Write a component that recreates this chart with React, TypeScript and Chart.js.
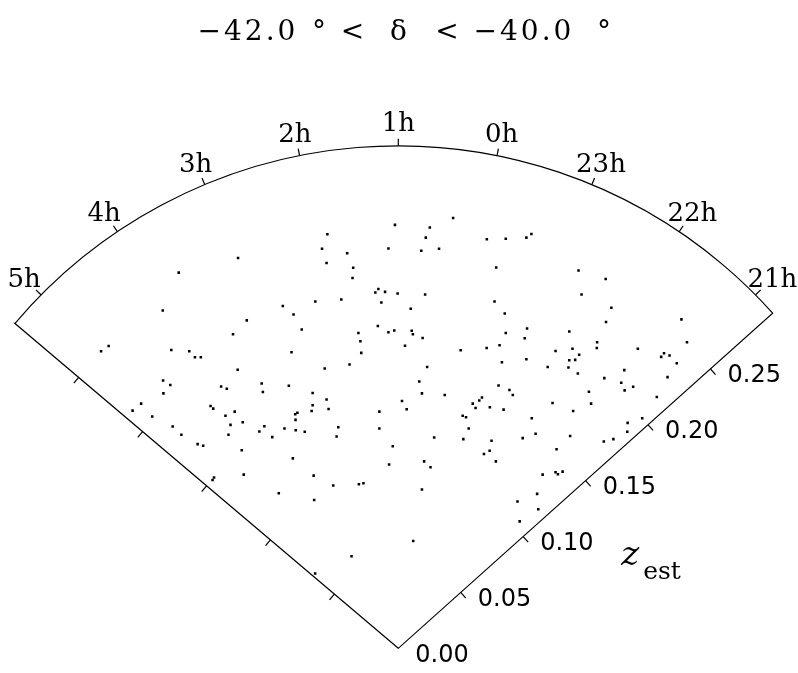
import React, { useEffect, useRef } from "react";
import { Chart, registerables } from "chart.js";

Chart.register(...registerables);

// ---------------- data ----------------
const titleParts = ["−42.0", "°", "<", "δ", "<", "−40.0", "°"];
const decCenterDeg = -41;
const raCenterHours = 1;
const raEastEdgeHours = 5.39;
const raWestEdgeHours = 20.746;
const zMax = 0.3;
const hourTickValues = [5, 4, 3, 2, 1, 0, 23, 22, 21];
const hourTickLabels = ["5h", "4h", "3h", "2h", "1h", "0h", "23h", "22h", "21h"];
const zTickValues = [0.05, 0.1, 0.15, 0.2, 0.25];
const zLabelValues = [0, 0.05, 0.1, 0.15, 0.2, 0.25];
const zLabelTexts = ["0.00", "0.05", "0.10", "0.15", "0.20", "0.25"];
const zAxisSymbol = "z";
const zAxisSubscript = "est";

// galaxy positions projected in the cone plane (units of redshift)
const galaxyX = [
  -0.0956, -0.131, -0.1405, -0.0904, -0.0986, -0.1728, -0.1773, -0.1354, -0.1247, -0.1213,
  -0.1178, -0.0958, -0.1403, -0.136, -0.1401, -0.1057, -0.1023, -0.0815, -0.0808, 0.0327,
  -0.002, 0.0188, -0.0423, 0.0164, 0.0528, 0.0641, 0.0764, -0.0455, -0.0059, 0.0137,
  0.0243, -0.0305, -0.0428, -0.0269, 0.0584, -0.0273, -0.0119, -0.0137, -0.0079, -0.0004,
  0.016, -0.0495, -0.034, -0.0101, 0.0574, -0.0689, 0.0074, -0.0625, 0.0635, -0.0122,
  -0.0576, -0.0059, -0.0024, 0.008, 0.0087, -0.0238, 0.0768, 0.0641, 0.0754, -0.0226,
  0.0145, 0.004, 0.0604, 0.0527, 0.0372, -0.0637, -0.0221, 0.0618, 0.0764, -0.0291,
  -0.0439, 0.0172, -0.0653, -0.0511, 0.0125, 0.0141, 0.0277, 0.0598, 0.0663, 0.0683,
  0.0794, 0.1075, 0.1237, 0.1093, 0.1271, 0.1239, 0.1689, 0.102, 0.1722, 0.1186,
  0.1184, 0.1039, 0.0938, 0.1429, 0.1079, 0.1055, 0.102, 0.1585, 0.1568, 0.1618,
  0.0891, 0.1015, 0.1661, 0.1071, 0.1348, 0.1229, 0.1606, 0.133, 0.1401, 0.135,
  0.1137, 0.1542, -0.1534, -0.1585, -0.1468, -0.1346, -0.1294, -0.1197, -0.1164, -0.112,
  -0.1104, -0.1031, -0.0976, -0.1001, -0.0928, -0.1013, -0.0799, -0.0829, -0.0752, -0.0934,
  -0.0679, -0.0615, -0.0602, -0.0613, -0.0612, -0.0558, -0.0511, -0.0517, -0.0428, -0.0416,
  -0.0629, -0.1108, -0.1099, -0.0922, -0.0505, -0.0713, -0.0502, -0.0496, -0.0358, -0.0368,
  -0.0113, -0.0113, 0.0022, 0.005, -0.0033, -0.0055, 0.0214, 0.0154, 0.0192, 0.0141,
  -0.0388, -0.0235, -0.0208, 0.0089, -0.0279, 0.0444, 0.0461, 0.0483, 0.0499, 0.0546,
  0.0628, 0.0384, 0.0404, 0.042, 0.0388, 0.0556, 0.0545, 0.0511, 0.0582, 0.0796,
  0.0819, 0.0742, 0.092, 0.1043, 0.1025, 0.0944, 0.0861, 0.0938, 0.0952, 0.098,
  0.0828, 0.0711, 0.0835, 0.0724, 0.115, 0.1368, 0.1455, 0.1366, 0.1226, 0.1283,
];
const galaxyY = [
  0.233, 0.2243, 0.2017, 0.1958, 0.1875, 0.1805, 0.1774, 0.1781, 0.1774, 0.1738,
  0.1738, 0.1663, 0.1599, 0.1572, 0.1522, 0.1563, 0.155, 0.1581, 0.153, 0.2569,
  0.2528, 0.2512, 0.2472, 0.2452, 0.2442, 0.2445, 0.2452, 0.2385, 0.2387, 0.2373,
  0.2385, 0.2359, 0.23, 0.2272, 0.2274, 0.2211, 0.2145, 0.2124, 0.2128, 0.2118,
  0.2112, 0.2071, 0.2082, 0.2065, 0.2071, 0.2044, 0.2027, 0.1993, 0.1999, 0.1924,
  0.1904, 0.1887, 0.1898, 0.1896, 0.1875, 0.1882, 0.191, 0.1882, 0.1851, 0.1833,
  0.1853, 0.1807, 0.1809, 0.1793, 0.178, 0.1768, 0.1764, 0.1708, 0.1726, 0.1694,
  0.167, 0.1679, 0.1568, 0.1524, 0.1593, 0.1522, 0.1512, 0.1569, 0.1542, 0.1512,
  0.2474, 0.2256, 0.2205, 0.2112, 0.2033, 0.1948, 0.1964, 0.1892, 0.1827, 0.1827,
  0.1793, 0.1789, 0.1775, 0.1789, 0.1753, 0.1722, 0.172, 0.1762, 0.174, 0.1748,
  0.1679, 0.1676, 0.1702, 0.1641, 0.1661, 0.1613, 0.1619, 0.1585, 0.1562, 0.154,
  0.1532, 0.1501, 0.1461, 0.1419, 0.1384, 0.1324, 0.1275, 0.1219, 0.121, 0.1447,
  0.1431, 0.1388, 0.1413, 0.1334, 0.135, 0.1275, 0.1326, 0.1294, 0.1261, 0.1183,
  0.1312, 0.1397, 0.1406, 0.1364, 0.1302, 0.1293, 0.1451, 0.1417, 0.1486, 0.1429,
  0.1134, 0.1005, 0.102, 0.1037, 0.1031, 0.0926, 0.0885, 0.0447, 0.132, 0.1265,
  0.1413, 0.1312, 0.1477, 0.1427, 0.1207, 0.1097, 0.1259, 0.1116, 0.1081, 0.0948,
  0.0972, 0.098, 0.0986, 0.0641, 0.055, 0.1461, 0.1435, 0.148, 0.1498, 0.1439,
  0.1425, 0.1388, 0.1379, 0.1312, 0.1249, 0.1239, 0.118, 0.116, 0.1116, 0.1373,
  0.1281, 0.1255, 0.1465, 0.1417, 0.1267, 0.1188, 0.1037, 0.1051, 0.1039, 0.1055,
  0.0922, 0.0877, 0.083, 0.0758, 0.1461, 0.1346, 0.1373, 0.1293, 0.1235, 0.1249,
];

// ---------------- layout ----------------
const W = 798;
const H = 673;
const PX_PER_Z = 1684;
const APEX_X = 398.3;
const APEX_Y = 650;
const X_MIN = -APEX_X / PX_PER_Z;
const X_MAX = (W - APEX_X) / PX_PER_Z;
const Y_MIN = -(H - APEX_Y) / PX_PER_Z;
const Y_MAX = APEX_Y / PX_PER_Z;

const thetaRad = (raH: number) => {
  let d = raCenterHours - raH;
  while (d > 12) d -= 24;
  while (d <= -12) d += 24;
  return (d * 15 * Math.cos((decCenterDeg * Math.PI) / 180) * Math.PI) / 180;
};

const conePlugin = {
  id: "cone",
  beforeDatasetsDraw(chart: any) {
    const { ctx, scales } = chart;
    const xs = scales.x;
    const ys = scales.y;
    const px = (X: number, Y: number) => [xs.getPixelForValue(X), ys.getPixelForValue(Y)];
    const polar = (raH: number, z: number) => {
      const t = thetaRad(raH);
      return px(z * Math.sin(t), z * Math.cos(t));
    };
    const [ax, ay] = px(0, 0);
    const r = ay - ys.getPixelForValue(zMax);
    const tE = thetaRad(raEastEdgeHours);
    const tW = thetaRad(raWestEdgeHours);
    const [lx, ly] = polar(raEastEdgeHours, zMax);

    ctx.save();
    ctx.strokeStyle = "#000";
    ctx.lineWidth = 1.2;
    ctx.lineJoin = "miter";
    ctx.beginPath();
    ctx.moveTo(ax, ay);
    ctx.lineTo(lx, ly);
    ctx.arc(ax, ay, r, -Math.PI / 2 + tE, -Math.PI / 2 + tW, false);
    ctx.closePath();
    ctx.stroke();

    // hour ticks and labels
    const tickLen = 7;
    ctx.fillStyle = "#000";
    ctx.font = "26px 'DejaVu Serif'";
    ctx.textAlign = "center";
    ctx.textBaseline = "alphabetic";
    hourTickValues.forEach((h, i) => {
      const t = thetaRad(h);
      const [sx, sy] = polar(h, zMax);
      const dx = Math.sin(t);
      const dy = -Math.cos(t);
      ctx.beginPath();
      ctx.moveTo(sx, sy);
      ctx.lineTo(sx + tickLen * dx, sy + tickLen * dy);
      ctx.stroke();
      const lr = r + 24;
      ctx.fillText(hourTickLabels[i], ax + lr * dx, ay + lr * dy + 9.5);
    });

    // redshift ticks on both edges (outward)
    [tE, tW].forEach((t, k) => {
      const raEdge = k === 0 ? raEastEdgeHours : raWestEdgeHours;
      const s = Math.sign(t);
      const nx = s * Math.cos(t);
      const ny = s * Math.sin(t);
      zTickValues.forEach((z) => {
        const [sx, sy] = polar(raEdge, z);
        ctx.beginPath();
        ctx.moveTo(sx, sy);
        ctx.lineTo(sx + 7.5 * nx, sy + 7.5 * ny);
        ctx.stroke();
      });
    });

    // redshift labels on west edge
    ctx.font = "24px 'DejaVu Sans'";
    ctx.textAlign = "left";
    ctx.textBaseline = "middle";
    zLabelValues.forEach((z, i) => {
      const [sx, sy] = polar(raWestEdgeHours, z);
      ctx.fillText(zLabelTexts[i], sx + 17, sy + 7);
    });

    // axis title z_est
    const [bx, by] = polar(raWestEdgeHours, 0.1);
    ctx.textBaseline = "alphabetic";
    ctx.font = "italic 34px 'DejaVu Serif'";
    ctx.fillText(zAxisSymbol, bx + 98, by + 28);
    ctx.font = "25px 'DejaVu Serif'";
    ctx.fillText(zAxisSubscript, bx + 120, by + 42);

    // title
    const titleOffsets = [-152.5, -80, -46.5, -0.5, 48, 123.5, 205];
    ctx.font = "28px 'DejaVu Serif'";
    ctx.textAlign = "left";
    const cx = (chart.chartArea.left + chart.chartArea.right) / 2;
    titleParts.forEach((p, i) => {
      const spacing = p.length > 1 ? 3 : 0;
      (ctx as any).letterSpacing = spacing + "px";
      const w = ctx.measureText(p).width - spacing;
      ctx.fillText(p, cx + titleOffsets[i] - w / 2, 40);
    });
    (ctx as any).letterSpacing = "0px";
    ctx.restore();
  },
};

export default function App() {
  const ref = useRef<HTMLCanvasElement | null>(null);
  useEffect(() => {
    if (!ref.current) return;
    const chart = new Chart(ref.current, {
      type: "scatter",
      data: {
        datasets: [
          {
            data: galaxyX.map((x, i) => ({ x, y: galaxyY[i] })),
            pointStyle: "rect",
            pointRadius: 1.8,
            pointHoverRadius: 1.8,
            pointBackgroundColor: "#000",
            pointBorderWidth: 0,
            borderWidth: 0,
          },
        ],
      },
      options: {
        animation: false,
        responsive: false,
        maintainAspectRatio: false,
        events: [],
        layout: { padding: 0 },
        plugins: {
          legend: { display: false },
          title: { display: false },
          tooltip: { enabled: false },
        },
        scales: {
          x: { type: "linear", display: false, min: X_MIN, max: X_MAX },
          y: { type: "linear", display: false, min: Y_MIN, max: Y_MAX },
        },
      },
      plugins: [conePlugin],
    } as any);
    return () => chart.destroy();
  }, []);
  return (
    <div style={{ position: "absolute", left: 0, top: 0, width: W, height: H, background: "#fff" }}>
      <canvas ref={ref} width={W} height={H} style={{ display: "block" }} />
    </div>
  );
}
